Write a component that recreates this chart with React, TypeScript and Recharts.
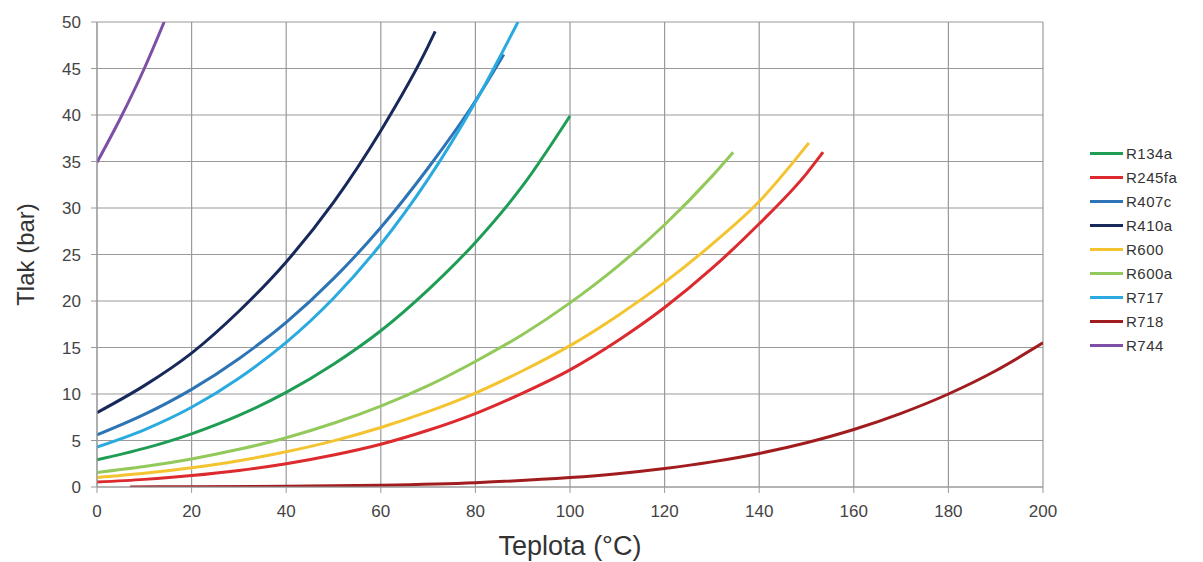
import { LineChart, Line, XAxis, YAxis, CartesianGrid } from 'recharts'

// saturation pressure curves, temperature (°C) -> pressure (bar)
const r134a = [
  { t: 0, p: 2.93 }, { t: 10, p: 4.15 }, { t: 20, p: 5.72 }, { t: 30, p: 7.7 }, { t: 40, p: 10.17 },
  { t: 50, p: 13.2 }, { t: 60, p: 16.8 }, { t: 70, p: 21.2 }, { t: 80, p: 26.3 }, { t: 90, p: 32.4 },
  { t: 100, p: 39.9 },
]
const r245fa = [
  { t: 0, p: 0.53 }, { t: 10, p: 0.82 }, { t: 20, p: 1.23 }, { t: 30, p: 1.78 }, { t: 40, p: 2.5 },
  { t: 50, p: 3.44 }, { t: 60, p: 4.6 }, { t: 70, p: 6.1 }, { t: 80, p: 7.9 }, { t: 90, p: 10.1 },
  { t: 100, p: 12.6 }, { t: 110, p: 15.7 }, { t: 120, p: 19.3 }, { t: 130, p: 23.5 }, { t: 140, p: 28.3 },
  { t: 150, p: 33.7 }, { t: 153.5, p: 36 },
]
const r407c = [
  { t: 0, p: 5.6 }, { t: 10, p: 7.8 }, { t: 20, p: 10.5 }, { t: 30, p: 13.8 }, { t: 40, p: 17.7 },
  { t: 50, p: 22.4 }, { t: 60, p: 27.9 }, { t: 70, p: 34.3 }, { t: 80, p: 41.5 }, { t: 86, p: 46.5 },
]
const r410a = [
  { t: 0, p: 8.0 }, { t: 10, p: 10.9 }, { t: 20, p: 14.4 }, { t: 30, p: 18.9 }, { t: 40, p: 24.2 },
  { t: 50, p: 30.6 }, { t: 60, p: 38.3 }, { t: 70, p: 47.4 }, { t: 71.5, p: 49 },
]
const r600 = [
  { t: 0, p: 1.03 }, { t: 10, p: 1.48 }, { t: 20, p: 2.08 }, { t: 30, p: 2.83 }, { t: 40, p: 3.79 },
  { t: 50, p: 4.96 }, { t: 60, p: 6.4 }, { t: 70, p: 8.1 }, { t: 80, p: 10.1 }, { t: 90, p: 12.5 },
  { t: 100, p: 15.2 }, { t: 110, p: 18.4 }, { t: 120, p: 22 }, { t: 130, p: 26.1 }, { t: 140, p: 30.7 },
  { t: 150.5, p: 37 },
]
const r600a = [
  { t: 0, p: 1.57 }, { t: 10, p: 2.2 }, { t: 20, p: 3.02 }, { t: 30, p: 4.05 }, { t: 40, p: 5.3 },
  { t: 50, p: 6.85 }, { t: 60, p: 8.7 }, { t: 70, p: 10.9 }, { t: 80, p: 13.5 }, { t: 90, p: 16.4 },
  { t: 100, p: 19.8 }, { t: 110, p: 23.7 }, { t: 120, p: 28.2 }, { t: 130, p: 33.4 }, { t: 134.5, p: 36 },
]
const r717 = [
  { t: 0, p: 4.3 }, { t: 10, p: 6.15 }, { t: 20, p: 8.57 }, { t: 30, p: 11.7 }, { t: 40, p: 15.55 },
  { t: 50, p: 20.3 }, { t: 60, p: 26.1 }, { t: 70, p: 33.1 }, { t: 80, p: 41.4 }, { t: 89, p: 50 },
]
const r718 = [
  { t: 7, p: 0.01 }, { t: 20, p: 0.023 }, { t: 40, p: 0.074 }, { t: 60, p: 0.2 }, { t: 80, p: 0.47 },
  { t: 100, p: 1.01 }, { t: 110, p: 1.43 }, { t: 120, p: 1.99 }, { t: 130, p: 2.7 }, { t: 140, p: 3.61 },
  { t: 150, p: 4.76 }, { t: 160, p: 6.18 }, { t: 170, p: 7.92 }, { t: 180, p: 10.0 }, { t: 190, p: 12.5 },
  { t: 200, p: 15.5 },
]
const r744 = [
  { t: 0, p: 34.9 }, { t: 5, p: 39.7 }, { t: 10, p: 45.0 }, { t: 14.2, p: 50 },
]

const xTicks = [0, 20, 40, 60, 80, 100, 120, 140, 160, 180, 200]
const yTicks = [0, 5, 10, 15, 20, 25, 30, 35, 40, 45, 50]

const series = [
  { name: 'R134a', data: r134a, color: '#1f9d55' },
  { name: 'R245fa', data: r245fa, color: '#dc2a2e' },
  { name: 'R407c', data: r407c, color: '#2c74b5' },
  { name: 'R410a', data: r410a, color: '#17285a' },
  { name: 'R600', data: r600, color: '#f4c430' },
  { name: 'R600a', data: r600a, color: '#93c95b' },
  { name: 'R717', data: r717, color: '#2aaade' },
  { name: 'R718', data: r718, color: '#a11c1e' },
  { name: 'R744', data: r744, color: '#7d4fa6' },
]

const font = '"Liberation Sans", Arial, sans-serif'

export default function App() {
  return (
    <div style={{ position: 'absolute', left: 0, top: 0, width: 1203, height: 562, background: '#fff', fontFamily: font }}>
      <LineChart width={1203} height={562} margin={{ top: 22, right: 160, left: 37, bottom: 45 }}>
        <CartesianGrid stroke="#9a9a9a" strokeWidth={1.2} />
        <XAxis
          type="number"
          dataKey="t"
          domain={[0, 200]}
          ticks={xTicks}
          allowDataOverflow
          height={30}
          tick={{ fill: '#444', fontSize: 17, fontFamily: font }}
          tickSize={6}
          tickMargin={12}
          tickLine={{ stroke: '#9a9a9a' }}
          axisLine={{ stroke: '#9a9a9a' }}
          label={{ value: 'Teplota (°C)', position: 'insideBottom', offset: -38, fill: '#333', fontSize: 27, fontFamily: font }}
        />
        <YAxis
          type="number"
          domain={[0, 50]}
          ticks={yTicks}
          allowDataOverflow
          width={60}
          tick={{ fill: '#444', fontSize: 17, fontFamily: font }}
          tickSize={6}
          tickMargin={10}
          tickLine={{ stroke: '#9a9a9a' }}
          axisLine={{ stroke: '#9a9a9a' }}
          label={{ value: 'Tlak (bar)', angle: -90, position: 'insideLeft', offset: -12, fill: '#333', fontSize: 24, fontFamily: font, style: { textAnchor: 'middle' } }}
        />
        {series.map(s => (
          <Line
            key={s.name}
            data={s.data}
            dataKey="p"
            name={s.name}
            type="monotone"
            stroke={s.color}
            strokeWidth={3}
            dot={false}
            isAnimationActive={false}
          />
        ))}
      </LineChart>
      <div style={{ position: 'absolute', left: 1090, top: 141, display: 'flex', flexDirection: 'column', gap: 0 }}>
        {series.map(s => (
          <div key={s.name} style={{ display: 'flex', alignItems: 'center', height: 24 }}>
            <span style={{ display: 'inline-block', width: 33, height: 3, background: s.color, marginRight: 3 }} />
            <span style={{ fontSize: 15, color: '#333', letterSpacing: '0.5px' }}>{s.name}</span>
          </div>
        ))}
      </div>
    </div>
  )
}
